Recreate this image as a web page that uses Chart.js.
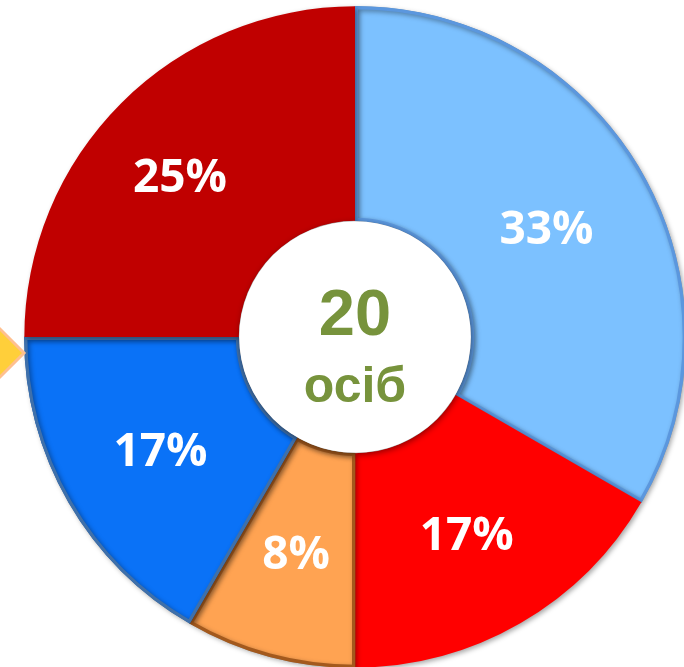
<!DOCTYPE html>
<html>
<head>
<meta charset="utf-8">
<script src="https://cdn.jsdelivr.net/npm/chart.js@4/dist/chart.umd.min.js"></script>
<style>
  html, body { margin: 0; padding: 0; background: #fff; overflow: hidden; }
  #wrap { position: absolute; left: 0; top: 0; width: 710px; height: 674px; }
</style>
</head>
<body>
<div id="wrap"><canvas id="chart"></canvas></div>
<script>
// slice shares, clockwise from 12 o'clock
var categories = ['A', 'B', 'C', 'D', 'E'];
var shares = [4, 2, 1, 2, 3];
var sliceColors = ['#7cc1ff', '#ff0000', '#ffa352', '#0a72f7', '#c00000'];
var sliceBorders = ['#5b97de', '#ff0000', '#a3591d', '#3f70aa', '#c00000'];
var sliceBorderWidths = [3, 0, 3, 3, 0];
var centerValue = '20';
var centerUnit = 'осіб';

// small nudges of the percent labels
var labelNudgeX = [-2, 0, -1, -1, -17];
var labelNudgeY = [6, 6, 3, 4, 0];

var total = shares.reduce(function(a, b) { return a + b; }, 0);

// soft shadow under the ring
var shadowPlugin = {
    id: 'shadow',
    beforeDatasetsDraw: function(chart) {
        var ctx = chart.ctx;
        ctx.save();
        ctx.shadowColor = 'rgba(0,0,0,0.35)';
        ctx.shadowBlur = 5;
        ctx.shadowOffsetX = 2;
        ctx.shadowOffsetY = 2;
    },
    afterDatasetsDraw: function(chart) {
        chart.ctx.restore();
    }
};

var decoPlugin = {
    id: 'deco',
    afterDraw: function(chart) {
        var ctx = chart.ctx;
        var arc = chart.getDatasetMeta(0).data[0];
        var cx = arc.x, cy = arc.y, r = arc.innerRadius;

        // white hub with shadow
        ctx.save();
        ctx.beginPath();
        ctx.arc(cx, cy, r, 0, Math.PI * 2);
        ctx.fillStyle = '#ffffff';
        ctx.shadowColor = 'rgba(0,0,0,0.45)';
        ctx.shadowBlur = 6;
        ctx.shadowOffsetX = 1;
        ctx.shadowOffsetY = 2;
        ctx.fill();
        ctx.restore();

        // centre text
        ctx.save();
        ctx.fillStyle = '#77933c';
        ctx.textAlign = 'center';
        ctx.textBaseline = 'alphabetic';
        ctx.font = 'bold 65px "Liberation Sans", Arial, sans-serif';
        ctx.fillText(centerValue, cx, cy - 2);
        ctx.font = 'bold 50px "Liberation Sans", Arial, sans-serif';
        ctx.fillText(centerUnit, cx, cy + 65);
        ctx.restore();

        // percent labels
        ctx.save();
        ctx.fillStyle = '#ffffff';
        ctx.textAlign = 'center';
        ctx.textBaseline = 'middle';
        ctx.font = 'bold 46px "Open Sans", sans-serif';
        chart.getDatasetMeta(0).data.forEach(function(el, i) {
            var p = el.tooltipPosition();
            var pct = Math.round(shares[i] / total * 100) + '%';
            ctx.fillText(pct, p.x + labelNudgeX[i], p.y + labelNudgeY[i]);
        });
        ctx.restore();

        // yellow pointer at left edge (part of neighbouring shape)
        ctx.save();
        ctx.beginPath();
        ctx.moveTo(-2, 327);
        ctx.lineTo(24, 353);
        ctx.lineTo(-2, 379);
        ctx.closePath();
        ctx.fillStyle = '#ffcf3a';
        ctx.fill();
        ctx.lineWidth = 3;
        ctx.strokeStyle = '#ffc090';
        ctx.stroke();
        ctx.restore();
    }
};

var ctx = document.getElementById('chart').getContext('2d');
var chart = new Chart(ctx, {
    type: 'doughnut',
    data: {
        labels: categories,
        datasets: [{
            data: shares,
            backgroundColor: sliceColors,
            borderColor: sliceBorders,
            borderWidth: sliceBorderWidths,
            borderAlign: 'inner'
        }]
    },
    options: {
        responsive: true,
        maintainAspectRatio: false,
        animation: false,
        cutout: '35%',
        layout: { padding: { left: 24, right: 24, top: 6, bottom: 6 } },
        plugins: {
            legend: { display: false },
            tooltip: { enabled: false }
        }
    },
    plugins: [shadowPlugin, decoPlugin]
});
</script>
</body>
</html>
